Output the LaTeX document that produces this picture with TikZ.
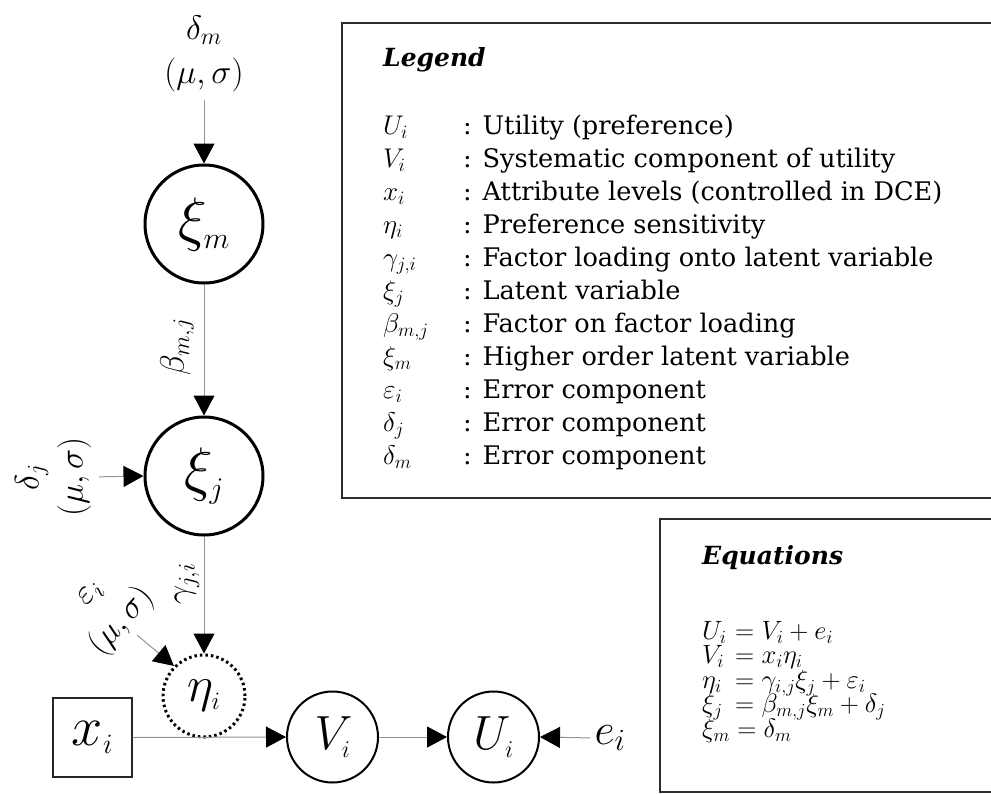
\RequirePackage{fix-cm}
\documentclass[tikz,border=0pt]{standalone}
\usepackage{fontspec}
\setmainfont{DejaVu Serif}
\usetikzlibrary{arrows.meta}

% symbol column of the legend, set a little larger than the text
\newcommand{\legsym}[1]{{\fontsize{27}{33}\selectfont$#1$}}
% one row of the equations block, kept to a fixed row height
\newcommand{\eqrow}[1]{\smash{#1}}

\begin{document}
\begin{tikzpicture}[x=1pt,y=-1pt,
  link/.style={draw=gray!85, line width=1pt,
    -{Triangle[length=20pt,width=21pt,color=black]}},
  latent/.style={circle, draw, line width=3pt, minimum size=118pt, inner sep=0pt},
  observed/.style={circle, draw, line width=2pt, minimum size=91pt, inner sep=0pt,
    font=\fontsize{48}{52}\selectfont},
  dotcircle/.style={circle, draw, line width=3pt, dash pattern=on 2.5pt off 3pt,
    minimum size=82pt, inner sep=0pt, font=\fontsize{50}{54}\selectfont},
  squarebox/.style={draw=gray!30!black, line width=1.5pt, minimum size=79pt, inner sep=0pt,
    font=\fontsize{56}{60}\selectfont},
  errlabel/.style={align=center, inner sep=0pt, font=\fontsize{34}{44}\selectfont},
  pathlabel/.style={inner sep=0pt, font=\fontsize{34}{40}\selectfont},
  panel/.style={draw=gray!35!black, line width=1.6pt},
  heading/.style={anchor=north west, inner sep=0pt,
    font=\fontsize{25}{30}\selectfont\bfseries\itshape}
]
\useasboundingbox (0,0) rectangle (991,793);

% ---------- path diagram ----------
\node[latent] (xim) at (204,224) {\fontsize{60}{62}\selectfont$\xi_{\scriptscriptstyle m}$};
\node[latent] (xij) at (204,476) {\fontsize{60}{62}\selectfont$\xi_{\scriptscriptstyle j}$};
\node[dotcircle] (eta) at (204,696) {$\eta_{\scriptscriptstyle i}$};
\node[squarebox] (x) at (92.5,737.5) {$x_{\scriptscriptstyle i}$};
\node[observed] (V) at (332.5,737) {$V_{\scriptscriptstyle i}$};
\node[observed] (U) at (493.5,737) {$U_{\scriptscriptstyle i}$};
\node[inner sep=0pt, font=\fontsize{44}{48}\selectfont] (e) at (610,738) {$e_i$};

% error terms
\node[errlabel] (dm) at (204,54) {$\delta_m$\\$(\mu,\sigma)$};
\node[errlabel, rotate=90] (dj) at (53,477) {$\delta_j$\\$(\mu,\sigma)$};
\node[errlabel, rotate=48] (ep) at (109,610) {$\varepsilon_i$\\$(\mu,\sigma)$};

% path coefficients
\node[pathlabel, rotate=90] (beta) at (177,347) {$\beta_{m,j}$};
\node[pathlabel, rotate=90] (gamma) at (187,584) {$\gamma_{j,i}$};

% connectors
\draw[link, shorten <=8pt] (dm.south) -- (xim.north);
\draw[link] (xim.south) -- (xij.north);
\draw[link, shorten <=8pt] (dj.south) -- (xij.west);
\draw[link] (xij.south) -- (eta.north);
\draw[link, shorten <=4pt] (ep.south) -- (eta.135);
\draw[link] (x.east) -- (V.west);
\draw[link] (V.east) -- (U.west);
\draw[link, shorten <=4pt] (e.west) -- (U.east);

% ---------- legend panel ----------
\draw[panel] (991,23) -- (342,23) -- (342,498) -- (991,498);
\node[heading] (legtitle) at (383,47) {Legend};
\node[anchor=north west, inner sep=0pt] (legtable) at (383,111) {%
  \fontsize{25.6}{33}\selectfont
  \begin{tabular}{@{}p{80pt}@{}l@{}}
  \legsym{U_i}          & : Utility (preference)\\
  \legsym{V_i}          & : Systematic component of utility\\
  \legsym{x_i}          & : Attribute levels (controlled in DCE)\\
  \legsym{\eta_i}       & : Preference sensitivity\\
  \legsym{\gamma_{j,i}} & : Factor loading onto latent variable\\
  \legsym{\xi_j}        & : Latent variable\\
  \legsym{\beta_{m,j}}  & : Factor on factor loading\\
  \legsym{\xi_m}        & : Higher order latent variable\\
  \legsym{\varepsilon_i}& : Error component\\
  \legsym{\delta_j}     & : Error component\\
  \legsym{\delta_m}     & : Error component
  \end{tabular}};

% ---------- equations panel ----------
\draw[panel] (991,519) -- (660,519) -- (660,792) -- (991,792);
\node[heading] (eqtitle) at (702,545) {Equations};
\node[anchor=north west, inner sep=0pt] (eqtable) at (702,622) {%
  \fontsize{26.5}{24.5}\selectfont
  \begin{tabular}{@{}p{33pt}@{}l@{}}
  \eqrow{$U_i$}    & \eqrow{$= V_i + e_i$}\\
  \eqrow{$V_i$}    & \eqrow{$= x_i\eta_i$}\\
  \eqrow{$\eta_i$} & \eqrow{$= \gamma_{i,j}\xi_j + \varepsilon_i$}\\
  \eqrow{$\xi_j$}  & \eqrow{$= \beta_{m,j}\xi_m + \delta_j$}\\
  \multicolumn{2}{@{}l@{}}{\eqrow{$\xi_m = \delta_m$}}
  \end{tabular}};
\end{tikzpicture}
\end{document}
